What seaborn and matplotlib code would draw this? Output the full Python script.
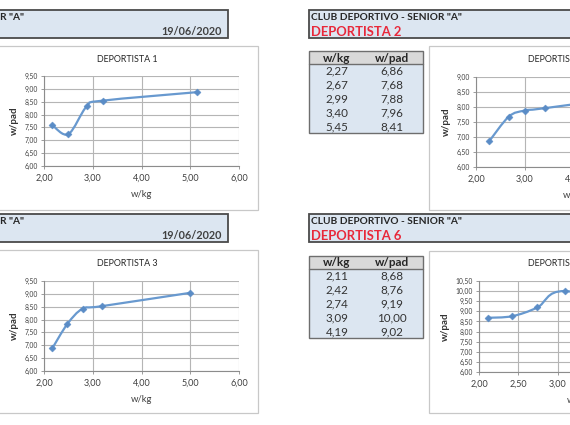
import numpy as np
import matplotlib
matplotlib.use("Agg")
import matplotlib.pyplot as plt
import seaborn as sns
from matplotlib.patches import Rectangle, PathPatch
from matplotlib.path import Path
from matplotlib.ticker import FuncFormatter, MultipleLocator

# ---------------- data ----------------
club_title = 'CLUB DEPORTIVO - SENIOR "A"'
date_text = "19/06/2020"
col_headers = ["w/kg", "w/pad"]

d1_name = "DEPORTISTA 1"
d1_wkg = [2.17, 2.50, 2.88, 3.20, 5.13]
d1_wpad = [7.59, 7.24, 8.33, 8.54, 8.87]

d2_name = "DEPORTISTA 2"
d2_wkg = [2.27, 2.67, 2.99, 3.40, 5.45]
d2_wpad = [6.86, 7.68, 7.88, 7.96, 8.41]

d3_name = "DEPORTISTA 3"
d3_wkg = [2.17, 2.48, 2.79, 3.18, 5.00]
d3_wpad = [6.88, 7.83, 8.42, 8.52, 9.04]

d6_name = "DEPORTISTA 6"
d6_wkg = [2.11, 2.42, 2.74, 3.09, 4.19]
d6_wpad = [8.68, 8.76, 9.19, 10.00, 9.02]

# ---------------- setup ----------------
sns.set_style("white")
plt.rcParams["font.family"] = ["Lato", "DejaVu Sans"]

W, H = 570, 425
fig = plt.figure(figsize=(W / 100, H / 100), dpi=100)
fig.patch.set_facecolor("white")

# overlay axes in pixel coordinates
ov = fig.add_axes([0, 0, 1, 1], zorder=0)
ov.set_xlim(0, W)
ov.set_ylim(H, 0)
ov.axis("off")

LINE = "#6899CF"
MARK = "#5A8CC6"
HDR_FILL = "#DCE6F1"
HDR_EDGE = "#4A4A4A"
TXT = "#262626"
RED = "#E8283A"


def comma(v, _=None):
    return f"{v:.2f}".replace(".", ",")


def header_box(x0, x1, y0, y1):
    ov.add_patch(Rectangle((x0, y0), x1 - x0, y1 - y0, facecolor=HDR_FILL,
                           edgecolor=HDR_EDGE, lw=1.3, zorder=1))


def chart_box(x0, y0, w=258, h=164):
    ov.add_patch(Rectangle((x0, y0), w, h, facecolor="white",
                           edgecolor="#C8C8C8", lw=0.9, zorder=1))


def table(x0, y0, xs, ys):
    x1, hh, rh = x0 + 114, 13, 13.8
    n = len(xs)
    tot = hh + n * rh
    ov.add_patch(Rectangle((x0, y0), x1 - x0, hh, facecolor="#D9D9D9",
                           edgecolor="none", zorder=1))
    ov.add_patch(Rectangle((x0, y0 + hh), x1 - x0, n * rh, facecolor=HDR_FILL,
                           edgecolor="none", zorder=1))
    ov.add_patch(Rectangle((x0, y0), x1 - x0, tot, facecolor="none",
                           edgecolor="#6E6E6E", lw=1.0, zorder=2))
    ov.plot([x0, x1], [y0 + hh, y0 + hh], color="#6E6E6E", lw=1.0, zorder=2)
    c1, c2 = x0 + 28, x0 + 83
    ov.text(c1, y0 + hh / 2 + 0.5, col_headers[0], ha="center", va="center",
            fontsize=8.5, fontweight="bold", color=TXT, zorder=3)
    ov.text(c2, y0 + hh / 2 + 0.5, col_headers[1], ha="center", va="center",
            fontsize=8.5, fontweight="bold", color=TXT, zorder=3)
    for i, (a, b) in enumerate(zip(xs, ys)):
        yc = y0 + hh + rh * (i + 0.5) + 0.5
        ov.text(c1, yc, comma(a), ha="center", va="center", fontsize=8.4,
                color="#333333", zorder=3)
        ov.text(c2, yc, comma(b), ha="center", va="center", fontsize=8.4,
                color="#333333", zorder=3)


def smooth_path(x, y):
    pts = np.column_stack([x, y]).astype(float)
    n = len(pts)
    verts = [pts[0]]
    codes = [Path.MOVETO]
    for i in range(n - 1):
        p0 = pts[i - 1] if i > 0 else pts[i]
        p1, p2 = pts[i], pts[i + 1]
        p3 = pts[i + 2] if i + 2 < n else pts[i + 1]
        c1 = p1 + (p2 - p0) / 6.0
        c2 = p2 - (p3 - p1) / 6.0
        verts += [c1, c2, p2]
        codes += [Path.CURVE4] * 3
    return Path(verts, codes)


def chart(px0, px1, py0, py1, xs, ys, title, xlim, xstep, ylim, box_x0, box_y0):
    ax = fig.add_axes([px0 / W, 1 - py1 / H, (px1 - px0) / W, (py1 - py0) / H],
                      zorder=2)
    ax.set_facecolor("white")
    ax.set_xlim(*xlim)
    ax.set_ylim(*ylim)
    ax.xaxis.set_major_locator(MultipleLocator(xstep))
    ax.yaxis.set_major_locator(MultipleLocator(0.5))
    ax.xaxis.set_major_formatter(FuncFormatter(comma))
    ax.yaxis.set_major_formatter(FuncFormatter(comma))
    ax.grid(True, color="#B5B5B5", lw=0.8)
    ax.set_axisbelow(True)
    for s in ["top", "right"]:
        ax.spines[s].set_visible(False)
    for s in ["left", "bottom"]:
        ax.spines[s].set_color("#8C8C8C")
        ax.spines[s].set_linewidth(0.8)
    ax.tick_params(axis="y", labelsize=4.9, colors="#8C8C8C", labelcolor="#404040",
                   length=2.5, width=0.6, direction="out", pad=2, left=True)
    ax.tick_params(axis="x", labelsize=6.5, colors="#8C8C8C", labelcolor="#404040",
                   length=2.5, width=0.6, direction="out", pad=3, bottom=True)
    ax.add_patch(PathPatch(smooth_path(xs, ys), facecolor="none", edgecolor=LINE,
                           lw=1.6, transform=ax.transData, zorder=3))
    sns.scatterplot(x=xs, y=ys, ax=ax, marker="D", s=13, color=MARK,
                    edgecolor=MARK, linewidth=0.3, zorder=4, legend=False)
    ax.set_xlabel("w/kg", fontsize=6.8, color="#404040", labelpad=5)
    ax.set_ylabel("w/pad", fontsize=7.0, fontweight="bold", color="#333333",
                  labelpad=4)
    # title centred on chart box
    ov.text(box_x0 + 129, box_y0 + 13, title, ha="center", va="center",
            fontsize=6.4, color=TXT, zorder=3)
    return ax


# ---------- top-left ----------
header_box(-5, 228, 10, 38)
ov.text(0, 17, 'R "A"', ha="left", va="center", fontsize=7.3,
        fontweight="bold", color=TXT, zorder=3)
ov.text(222, 31, date_text, ha="right", va="center", fontsize=7.8,
        fontweight="bold", color="#404040", zorder=3)
chart_box(-2, 46, 260, 164)
chart(44, 239, 76, 166, d1_wkg, d1_wpad, d1_name, (2, 6), 1.0, (6, 9.5), -2, 46)

# ---------- top-right ----------
header_box(309, 580, 10, 38)
ov.text(311, 17, club_title, ha="left", va="center", fontsize=7.3,
        fontweight="bold", color=TXT, zorder=3)
ov.text(311, 32, d2_name, ha="left", va="center", fontsize=9.4,
        fontweight="bold", color=RED, zorder=3)
table(309, 51, d2_wkg, d2_wpad)
chart_box(429, 46)
chart(476, 672, 77, 167, d2_wkg, d2_wpad, d2_name, (2, 6), 1.0, (6, 9), 429, 46)

# ---------- bottom-left ----------
header_box(-5, 228, 214, 242)
ov.text(0, 221, 'R "A"', ha="left", va="center", fontsize=7.3,
        fontweight="bold", color=TXT, zorder=3)
ov.text(222, 235, date_text, ha="right", va="center", fontsize=7.8,
        fontweight="bold", color="#404040", zorder=3)
chart_box(-2, 250, 260, 163)
chart(44, 239, 281, 371, d3_wkg, d3_wpad, d3_name, (2, 6), 1.0, (6, 9.5), -2, 250)

# ---------- bottom-right ----------
header_box(309, 580, 214, 242)
ov.text(311, 221, club_title, ha="left", va="center", fontsize=7.3,
        fontweight="bold", color=TXT, zorder=3)
ov.text(311, 236, d6_name, ha="left", va="center", fontsize=9.4,
        fontweight="bold", color=RED, zorder=3)
table(309, 256, d6_wkg, d6_wpad)
chart_box(429, 251, 258, 162)
chart(479, 676, 281, 372, d6_wkg, d6_wpad, d6_name, (2, 4.5), 0.5, (6, 10.5), 429, 251)

fig.savefig("out.png", dpi=100, facecolor="white")
